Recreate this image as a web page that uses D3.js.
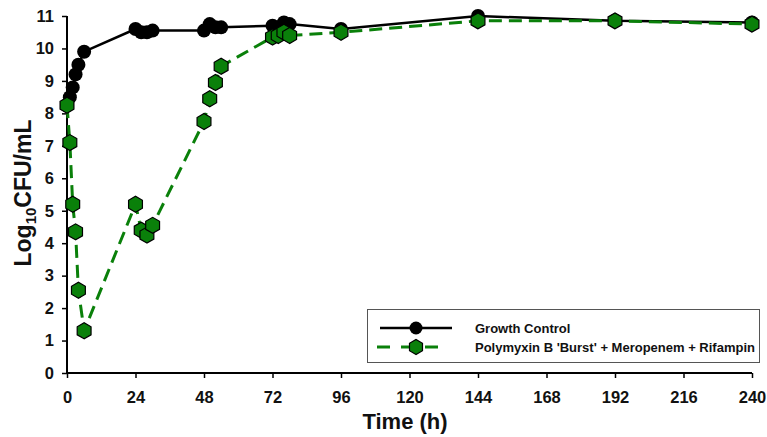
<!DOCTYPE html>
<html>
<head>
<meta charset="utf-8">
<script src="https://cdn.jsdelivr.net/npm/d3@7"></script>
<style>
  body { margin: 0; background: #fff; }
  text { font-family: Arial, "Liberation Sans", sans-serif; font-weight: bold; }
</style>
</head>
<body>
<svg id="chart" width="767" height="437"></svg>
<script>
const times = [0, 1, 2, 3, 4, 6, 24, 26, 28, 30, 48, 50, 52, 54, 72, 74, 76, 78, 96, 144, 192, 240];
const growthControl = [8.25, 8.5, 8.8, 9.2, 9.5, 9.9, 10.6, 10.5, 10.5, 10.55, 10.55, 10.75, 10.65, 10.65,
  10.7, 10.65, 10.8, 10.75, 10.6, 11.0, 10.85, 10.8];
const combo = [8.25, 7.1, 5.2, 4.35, 2.55, 1.3, 5.2, 4.4, 4.25, 4.55, 7.75, 8.45, 8.95, 9.45,
  10.35, 10.4, 10.5, 10.4, 10.5, 10.85, 10.85, 10.75];
const xTicks = [0, 24, 48, 72, 96, 120, 144, 168, 192, 216, 240];
const yTicks = [0, 1, 2, 3, 4, 5, 6, 7, 8, 9, 10, 11];
const seriesNames = ["Growth Control", "Polymyxin B 'Burst' + Meropenem + Rifampin"];

const svg = d3.select("#chart");
const x = d3.scaleLinear().domain([0, 240]).range([67, 752]);
const y = d3.scaleLinear().domain([0, 11]).range([373, 16]);
const green = "#0a800a";

// axes
const xAxis = svg.append("g")
  .attr("transform", `translate(0,${y(0)})`)
  .call(d3.axisBottom(x).tickValues(xTicks).tickSize(5).tickPadding(13));
const yAxis = svg.append("g")
  .attr("transform", `translate(${x(0)},0)`)
  .call(d3.axisLeft(y).tickValues(yTicks).tickSize(5).tickPadding(8));
[xAxis, yAxis].forEach(ax => {
  ax.select(".domain").attr("stroke", "#000").attr("stroke-width", 2);
  ax.selectAll(".tick line").attr("stroke", "#000").attr("stroke-width", 1.5);
  ax.selectAll("text").attr("font-size", 16.5).attr("fill", "#111")
    .attr("font-family", "Arial, 'Liberation Sans', sans-serif").attr("font-weight", "bold");
});
xAxis.select(".domain").attr("d", `M${x(0)},0H${x(240)}`);
yAxis.select(".domain").attr("d", `M0,${y(0)}V${y(11)}`);

// axis titles
svg.append("text").attr("x", 405).attr("y", 429).attr("text-anchor", "middle")
  .attr("font-size", 22).attr("fill", "#111").text("Time (h)");
const yl = svg.append("text").attr("transform", `translate(31,193) rotate(-90)`)
  .attr("text-anchor", "middle").attr("font-size", 23).attr("fill", "#111");
yl.append("tspan").text("Log");
yl.append("tspan").attr("font-size", 15).attr("dy", 5).text("10");
yl.append("tspan").attr("dy", -5).text("CFU/mL");

const line = d3.line().x(d => x(d[0])).y(d => y(d[1]));
const gcData = times.map((t, i) => [t, growthControl[i]]);
const coData = times.map((t, i) => [t, combo[i]]);

const hexPath = r => d3.range(6).map(i => {
  const a = Math.PI / 2 + i * Math.PI / 3;
  return [r * Math.cos(a), r * Math.sin(a)];
}).map((p, i) => (i ? "L" : "M") + p[0].toFixed(2) + "," + p[1].toFixed(2)).join("") + "Z";

// growth control
svg.append("path").datum(gcData).attr("d", line)
  .attr("fill", "none").attr("stroke", "#000").attr("stroke-width", 2.5);
svg.append("g").selectAll("circle").data(gcData).join("circle")
  .attr("cx", d => x(d[0])).attr("cy", d => y(d[1])).attr("r", 7)
  .attr("fill", "#000");

// combo
svg.append("path").datum(coData).attr("d", line)
  .attr("fill", "none").attr("stroke", green).attr("stroke-width", 3)
  .attr("stroke-dasharray", "13,7");
svg.append("g").selectAll("path").data(coData).join("path")
  .attr("transform", d => `translate(${x(d[0])},${y(d[1])})`)
  .attr("d", hexPath(8))
  .attr("fill", green).attr("stroke", "#000").attr("stroke-width", 1.2);

// legend
const lg = svg.append("g");
lg.append("rect").attr("x", 367.5).attr("y", 309.5).attr("width", 392).attr("height", 53)
  .attr("fill", "#fff").attr("stroke", "#555").attr("stroke-width", 1);
lg.append("line").attr("x1", 380).attr("x2", 452).attr("y1", 328).attr("y2", 328)
  .attr("stroke", "#000").attr("stroke-width", 2.5);
lg.append("circle").attr("cx", 416).attr("cy", 328).attr("r", 6.5).attr("fill", "#000");
lg.append("line").attr("x1", 377).attr("x2", 448).attr("y1", 347).attr("y2", 347)
  .attr("stroke", green).attr("stroke-width", 3).attr("stroke-dasharray", "13,11");
lg.append("path").attr("transform", "translate(416,347)").attr("d", hexPath(7.5))
  .attr("fill", green).attr("stroke", "#000").attr("stroke-width", 1.2);
lg.selectAll("text.lab").data(seriesNames).join("text").attr("class", "lab")
  .attr("x", 475).attr("y", (d, i) => 332.5 + i * 19)
  .attr("font-size", 13).attr("fill", "#111").text(d => d);
</script>
</body>
</html>
